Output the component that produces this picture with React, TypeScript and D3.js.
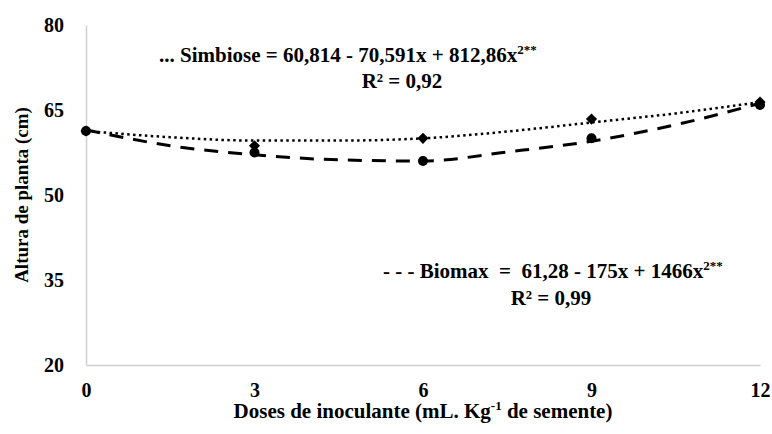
import React, { useEffect, useRef } from 'react';
import * as d3 from 'd3';

// doses (mL/kg) where plant height was measured
const doses = [0, 3, 6, 9, 12];
const simbiose = [61.3, 58.7, 60.0, 63.4, 66.4];
const biomax = [61.3, 57.5, 56.0, 60.0, 65.9];

// fitted trend curves
const trendDoses = [0, 1.5, 3, 4.5, 6, 7.5, 9, 10.5, 12];
const simbioseTrend = [61.3, 60.2, 59.6, 59.6, 60.0, 61.2, 62.8, 64.4, 66.4];
const biomaxTrend = [61.5, 58.7, 57.1, 56.2, 56.0, 57.6, 59.5, 62.4, 66.2];

const yTicks = [20, 35, 50, 65, 80];
const xTicks = [0, 3, 6, 9, 12];

const W = 772;
const H = 434;
const FONT = "'Liberation Serif', 'DejaVu Serif', serif";

export default function App() {
  const xAxisRef = useRef<SVGGElement>(null);
  const yAxisRef = useRef<SVGGElement>(null);

  const x = d3.scaleLinear().domain([0, 12]).range([86, 760]);
  const y = d3.scaleLinear().domain([20, 80]).range([365, 25]);

  useEffect(() => {
    const styleAxis = (g: any) => {
      g.attr('font-family', FONT).attr('font-size', 20).attr('font-weight', 'bold');
      g.select('.domain').attr('stroke', '#d0d0d0').attr('stroke-width', 1.5);
      g.selectAll('.tick line').remove();
      g.selectAll('.tick text').attr('fill', '#000');
    };
    d3.select(xAxisRef.current!)
      .call(d3.axisBottom(x).tickValues(xTicks).tickSize(0).tickPadding(18).tickFormat(d3.format('d')) as any)
      .call(styleAxis);
    d3.select(yAxisRef.current!)
      .call(d3.axisLeft(y).tickValues(yTicks).tickSize(0).tickPadding(22).tickFormat(d3.format('d')) as any)
      .call(styleAxis);
  }, []);

  const line = d3.line<number>()
    .x((_, i) => x(trendDoses[i]))
    .y(d => y(d))
    .curve(d3.curveMonotoneX);

  const diamond = d3.symbol(d3.symbolSquare, 62)();
  const pre = { whiteSpace: 'pre' as const };

  return (
    <svg width={W} height={H} style={{ position: 'absolute', left: 0, top: 0, background: '#fff' }}
      fontFamily={FONT} fontWeight="bold">
      <g ref={xAxisRef} transform={`translate(0,${y(20)})`} />
      <g ref={yAxisRef} transform={`translate(${x(0)},0)`} />

      <path d={line(simbioseTrend)!} fill="none" stroke="#000" strokeWidth={2.5} strokeDasharray="2.5,3.4" />
      <path d={line(biomaxTrend)!} fill="none" stroke="#000" strokeWidth={3} strokeDasharray="14,10" />

      {biomax.map((v, i) => (
        <circle key={'b' + i} cx={x(doses[i])} cy={y(v)} r={5} fill="#000" />
      ))}
      {simbiose.map((v, i) => (
        <path key={'s' + i} d={diamond!} transform={`translate(${x(doses[i])},${y(v)}) rotate(45)`} fill="#000" />
      ))}

      {/* trendline labels */}
      <g fontSize={21} fill="#000">
        <text x={159} y={62} style={pre}>
          ... Simbiose = 60,814 - 70,591x + 812,86x<tspan fontSize={13} dy={-8}>2**</tspan>
        </text>
        <text x={402} y={88} textAnchor="middle" style={pre}>R² = 0,92</text>

        <text x={383} y={278} style={pre}>
          {'- - - Biomax  =  61,28 - 175x + 1466x'}<tspan fontSize={13} dy={-8}>2**</tspan>
        </text>
        <text x={551} y={305} textAnchor="middle" style={pre}>R² = 0,99</text>

        {/* axis titles */}
        <text x={x(6)} y={418} textAnchor="middle" style={pre}>
          {'Doses de inoculante (mL. Kg'}<tspan fontSize={13} dy={-8}>-1</tspan><tspan dy={8}>{' de semente)'}</tspan>
        </text>
        <text transform={`translate(28,${y(50)}) rotate(-90)`} textAnchor="middle" fontSize={19}>
          Altura de planta (cm)
        </text>
      </g>
    </svg>
  );
}
